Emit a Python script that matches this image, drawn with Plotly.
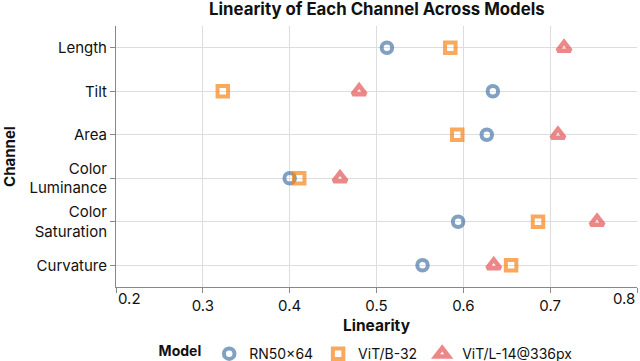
import plotly.graph_objects as go

channels = ["Length", "Tilt", "Area", "Color<br>Luminance", "Color<br>Saturation", "Curvature"]
rn50x64 = [0.512, 0.634, 0.627, 0.400, 0.594, 0.553]
vit_b32 = [0.585, 0.323, 0.593, 0.411, 0.686, 0.655]
vit_l14 = [0.716, 0.480, 0.709, 0.458, 0.754, 0.635]
x_ticks = [0.2, 0.3, 0.4, 0.5, 0.6, 0.7, 0.8]

series = [
    ("RN50×64", rn50x64, "circle-open", "#4c78a8"),
    ("ViT/B-32", vit_b32, "square-open", "#f58518"),
    ("ViT/L-14@336px", vit_l14, "triangle-up-open", "#e45756"),
]
# marker size / stroke per symbol
marker_style = {"circle-open": (10.5, 4), "square-open": (10.5, 4), "triangle-up-open": (11.5, 4.5)}

fig = go.Figure()
for name, vals, symbol, color in series:
    size, lw = marker_style[symbol]
    fig.add_trace(go.Scatter(
        x=vals, y=channels, mode="markers", name=name,
        marker=dict(symbol=symbol, size=size, color=color, opacity=0.7,
                    line=dict(width=lw, color=color)),
    ))

font = "Inter, Liberation Sans, sans-serif"

# first/last x tick labels are drawn flush with the plot edges (like vega-lite)
tick_text = ["" if v in (x_ticks[0], x_ticks[-1]) else f"{v:.1f}" for v in x_ticks]

fig.update_layout(
    width=640, height=361,
    margin=dict(l=116, r=3, t=26, b=74, autoexpand=False),
    plot_bgcolor="white", paper_bgcolor="white",
    font=dict(family=font, size=15, color="#111"),
    showlegend=True,
    legend=dict(orientation="h", x=0.482, xanchor="center", y=-0.257, yanchor="middle",
                title=dict(text="<b>Model</b>", side="left", font=dict(size=14)),
                font=dict(size=14), itemwidth=30),
    annotations=[
        dict(x=0.5, y=1, xref="paper", yref="paper", yshift=17,
             text="<b>Linearity of Each Channel Across Models</b>",
             showarrow=False, xanchor="center", yanchor="middle", font=dict(size=16.8, color="#111")),
        dict(x=x_ticks[0], y=0, xref="x", yref="paper", yshift=-11, text=f"{x_ticks[0]:.1f}",
             showarrow=False, xanchor="left", yanchor="middle", font=dict(size=15, color="#111")),
        dict(x=x_ticks[-1], y=0, xref="x", yref="paper", yshift=-11, text=f"{x_ticks[-1]:.1f}",
             showarrow=False, xanchor="right", yanchor="middle", font=dict(size=15, color="#111")),
    ],
)
fig.update_xaxes(
    range=[0.2, 0.8], tickvals=x_ticks, ticktext=tick_text, automargin=False,
    showgrid=True, gridcolor="#dddddd", gridwidth=1, zeroline=False,
    showline=True, linecolor="#888888", linewidth=1,
    ticks="outside", ticklen=5, tickcolor="#888888",
    title=dict(text="<b>Linearity</b>", font=dict(size=15.5), standoff=6),
)
fig.update_yaxes(
    categoryorder="array", categoryarray=channels, range=[5.5, -0.5], automargin=False,
    showgrid=True, gridcolor="#dddddd", gridwidth=1, zeroline=False,
    showline=True, linecolor="#888888", linewidth=1,
    ticks="outside", ticklen=5, tickcolor="#888888",
    title=dict(text="<b>Channel</b>", font=dict(size=15), standoff=12),
)

# the page's default body margin would shift the 640x361 figure off the window
fig.write_html("out.html", config={"displayModeBar": False},
               post_script="document.body.style.margin = '0';")
